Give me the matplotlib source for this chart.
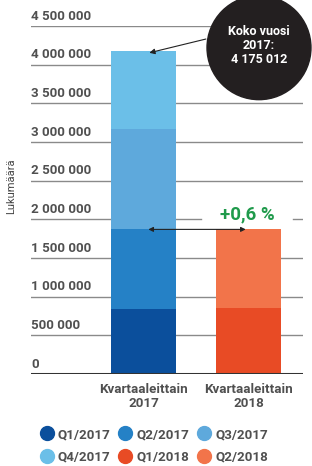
import matplotlib
matplotlib.use("Agg")
import matplotlib.pyplot as plt
from matplotlib.patches import Ellipse
from matplotlib.lines import Line2D

plt.rcParams["font.family"] = ["Roboto", "DejaVu Sans"]

# data
groups = ["Kvartaaleittain\n2017", "Kvartaaleittain\n2018"]
q_2017 = [840000, 1030000, 1300000, 1005012]
q_2018 = [850000, 1030000]
labels_2017 = ["Q1/2017", "Q2/2017", "Q3/2017", "Q4/2017"]
labels_2018 = ["Q1/2018", "Q2/2018"]
colors_2017 = ["#0b4f9c", "#2581c6", "#5ea9dc", "#6bbfe8"]
colors_2018 = ["#e84b25", "#f2744a"]
yticks = [0, 500000, 1000000, 1500000, 2000000, 2500000, 3000000, 3500000, 4000000, 4500000]
total_2017 = sum(q_2017)
change_text = "+0,6 %"

W, H = 312, 466
fig = plt.figure(figsize=(W / 100, H / 100), dpi=100)
ax = fig.add_axes([31 / W, 92 / H, 272 / W, 348 / H])
ax.set_xlim(-1.071, 1.519)
ax.set_ylim(0, 4500000)
for s in ax.spines.values():
    s.set_visible(False)
ax.set_xticks([])
ax.set_yticks([])

grid_c = "#8a8a8a"
text_c = "#505050"

# gridlines + tick labels sitting on top of them
for v in yticks:
    if v == 0:
        ax.axhline(v, color="#333333", lw=2.2, zorder=4)
    elif v == 2000000:
        ax.plot([-1.071, 0.55], [v, v], color=grid_c, lw=1, zorder=0)
        ax.plot([1.42, 1.519], [v, v], color=grid_c, lw=1, zorder=0)
    else:
        ax.axhline(v, color=grid_c, lw=1, zorder=0)
    lab = f"{v:,}".replace(",", " ")
    ax.text(-1.071, v + 45000, lab, ha="left", va="bottom", fontsize=9.6,
            fontweight="bold", color=text_c)

width = 0.62
bottom = 0
for val, c in zip(q_2017, colors_2017):
    ax.bar(0, val, width, bottom=bottom, color=c, zorder=2)
    bottom += val
bottom = 0
for val, c in zip(q_2018, colors_2018):
    ax.bar(1, val, width, bottom=bottom, color=c, zorder=2)
    bottom += val

# x labels
for i, g in enumerate(groups):
    ax.text(i, -120000, g, ha="center", va="top", fontsize=9.6,
            fontweight="bold", color=text_c, linespacing=1.05)

ax.text(-1.265, 2430000, "Lukumäärä", rotation=90, ha="center", va="center",
        fontsize=8, color="#444444")

# circle callout
cx, cy = 1.1, 4220000
ax.add_patch(Ellipse((cx, cy), 0.99, 1345000, color="#231f20", zorder=5, clip_on=False))
ax.text(cx, cy + 30000, f"Koko vuosi\n2017:\n{total_2017:,}".replace(",", " "),
        ha="center", va="center", color="white", fontsize=9, fontweight="bold",
        zorder=6, linespacing=1.1)
ax.annotate("", xy=(0.03, total_2017 - 30000), xytext=(0.62, 4340000),
            arrowprops=dict(arrowstyle="-|>", color="#222222", lw=0.8,
                            mutation_scale=8), zorder=6)

# change arrow
ax.annotate("", xy=(0.02, 1870000), xytext=(1.0, 1870000),
            arrowprops=dict(arrowstyle="<|-|>", color="#222222", lw=0.8,
                            mutation_scale=7), zorder=6)
ax.text(0.99, 2060000, change_text, ha="center", va="center", fontsize=13.5,
        fontweight="bold", color="#1f9a4b")

# legend, filled row by row
all_labels = labels_2017 + labels_2018
all_colors = colors_2017 + colors_2018
order = [0, 3, 1, 4, 2, 5]
handles = [Line2D([], [], marker="o", ls="", markersize=10, color=all_colors[i]) for i in order]
leg = fig.legend(handles, [all_labels[i] for i in order], loc="upper left",
                 bbox_to_anchor=(28 / W, 1 - 416 / H), ncol=3, frameon=False,
                 handletextpad=0.35, columnspacing=0.6, labelspacing=0.7,
                 handlelength=1.0, prop={"weight": "bold", "size": 9.6})
for t in leg.get_texts():
    t.set_color(text_c)

fig.savefig("out.png", dpi=100)
